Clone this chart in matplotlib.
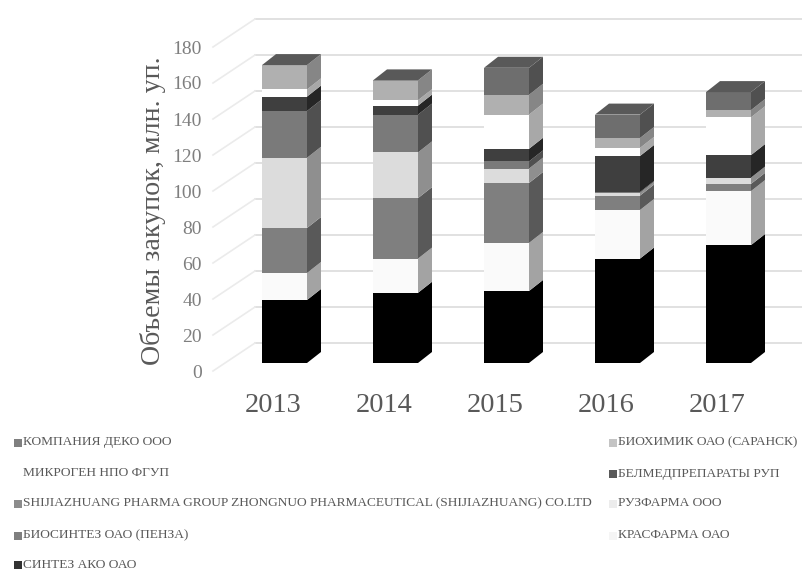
import matplotlib
matplotlib.use('Agg')
import matplotlib.pyplot as plt
import numpy as np

years = ['2013', '2014', '2015', '2016', '2017']
yticks = [0, 20, 40, 60, 80, 100, 120, 140, 160, 180]

# bottom to top
sintez = [35, 39, 40, 58, 65.5]
krasfarma = [15, 19, 26.7, 27, 30]
biosintez = [25, 33.6, 33.3, 8, 4]
ruzfarma = [39, 25.4, 8, 1.5, 3.5]
shijiazhuang = [26, 21, 4, 0.5, 0]
belmed = [8, 5, 7, 20, 12.5]
mikrogen = [4, 3, 19, 4.5, 21]
biohimik = [13.5, 11, 11, 5.5, 4]
deko = [0, 0, 15, 13, 10]

series = [sintez, krasfarma, biosintez, ruzfarma, shijiazhuang, belmed, mikrogen, biohimik, deko]
front = ['#000000', '#fafafa', '#7f7f7f', '#dcdcdc', '#7a7a7a', '#3f3f3f', '#ffffff', '#b0b0b0', '#6e6e6e']
side = ['#000000', '#a3a3a3', '#595959', '#8f8f8f', '#505050', '#262626', '#a8a8a8', '#868686', '#505050']

legend_left = [('КОМПАНИЯ ДЕКО ООО', '#7f7f7f'),
               ('МИКРОГЕН НПО ФГУП', '#ffffff'),
               ('SHIJIAZHUANG PHARMA GROUP ZHONGNUO PHARMACEUTICAL (SHIJIAZHUANG) CO.LTD', '#8c8c8c'),
               ('БИОСИНТЕЗ ОАО (ПЕНЗА)', '#7f7f7f'),
               ('СИНТЕЗ АКО ОАО', '#333333')]
legend_right = [('БИОХИМИК ОАО (САРАНСК)', '#c4c4c4'),
                ('БЕЛМЕДПРЕПАРАТЫ РУП', '#595959'),
                ('РУЗФАРМА ООО', '#ececec'),
                ('КРАСФАРМА ОАО', '#f5f5f5')]

plt.rcParams['font.family'] = ['Liberation Serif', 'DejaVu Serif']

W, H = 803, 570
fig = plt.figure(figsize=(W / 100, H / 100), dpi=100)
ax = fig.add_axes([0, 0, 1, 1])

# one category = 111 px, one unit = 1.8 px
px_x = 1 / 111
px_y = 1 / 1.8
ax.set_xlim(-284.5 * px_x, (W - 284.5) * px_x)
ax.set_ylim((363 - H) * px_y, 363 * px_y)
ax.axis('off')

x = np.arange(len(years))
bar_w = 45 * px_x
dx = 14 * px_x
dy = 11 * px_y

# back wall and floor lines
wall_y = 20 * px_y
wall_left = (255 - 284.5) * px_x
tick_left = (213 - 284.5) * px_x
for v in yticks:
    yb = v + wall_y
    ax.plot([wall_left, (W - 284.5) * px_x], [yb, yb], color='#dcdcdc', lw=1.2, zorder=1)
    ax.plot([tick_left, wall_left], [v - 8 * px_y, yb], color='#ebebeb', lw=1.2, zorder=1)
    ax.text((202 - 284.5) * px_x, v - 10 * px_y, str(v), ha='right', va='center',
            fontsize=14, color='#7f7f7f', zorder=3)

# stacked columns with a side face and a cap
bottom = np.zeros(len(years))
for vals, fc, sc in zip(series, front, side):
    vals = np.array(vals, dtype=float)
    ax.bar(x, vals, bar_w, bottom=bottom, color=fc, zorder=4)
    for xi, b, v in zip(x, bottom, vals):
        if v <= 0:
            continue
        r = xi + bar_w / 2
        ax.fill([r, r + dx, r + dx, r], [b, b + dy, b + v + dy, b + v], color=sc, lw=0, zorder=4)
    bottom = bottom + vals

for xi, t in zip(x, bottom):
    le = xi - bar_w / 2
    r = xi + bar_w / 2
    ax.fill([le, r, r + dx, le + dx], [t, t, t + dy, t + dy], color='#595959', lw=0, zorder=4)

for xi, year in zip(x, years):
    ax.text(xi - 11 * px_x, (363 - 406) * px_y, year, ha='center', va='center',
            fontsize=20.5, color='#595959')

ax.text((153 - 284.5) * px_x, (363 - 211) * px_y, 'Объемы закупок, млн. уп.', rotation=90,
        ha='center', va='center', fontsize=20.2, color='#595959')

# legend is written by hand, two columns of different width
rows = [442.5, 473.5, 503.5, 535.5, 564.5]
for (name, c), ry in zip(legend_left, rows):
    yy = (363 - ry) * px_y
    ax.scatter([(17.5 - 284.5) * px_x], [yy], marker='s', s=28, color=c, lw=0, zorder=3)
    ax.text((23 - 284.5) * px_x, yy, name, ha='left', va='center', fontsize=9.6, color='#595959')
for (name, c), ry in zip(legend_right, rows):
    yy = (363 - ry) * px_y
    ax.scatter([(612.5 - 284.5) * px_x], [yy], marker='s', s=28, color=c, lw=0, zorder=3)
    ax.text((618.5 - 284.5) * px_x, yy, name, ha='left', va='center', fontsize=9.6, color='#595959')

fig.savefig('out.png', dpi=100)
